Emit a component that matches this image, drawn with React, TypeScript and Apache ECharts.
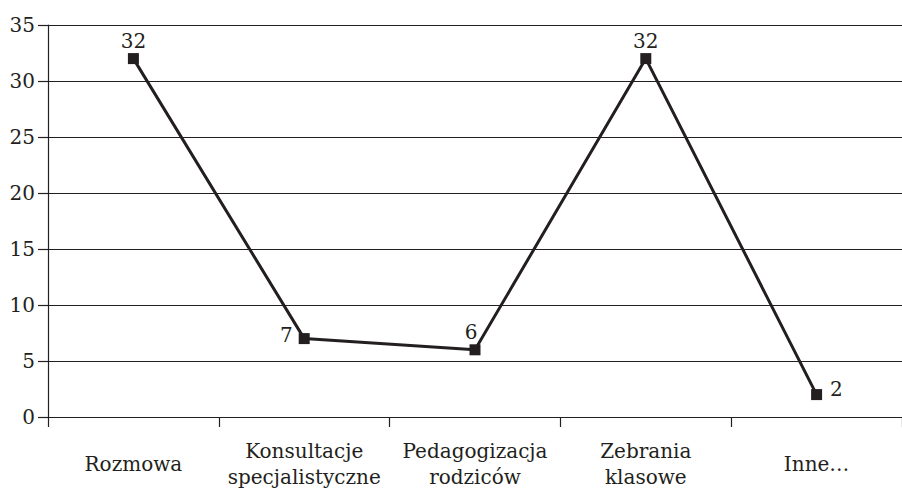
import React, { useEffect, useRef } from "react";
import * as echarts from "echarts";

const categories = ["Rozmowa", "Konsultacje\nspecjalistyczne", "Pedagogizacja\nrodziców", "Zebrania\nklasowe", "Inne…"];
const values = [32, 7, 6, 32, 2];
const labelPositions = ["top", "left", "top", "top", "right"];
const labelOffsets = [[0, 2], [-2, -4], [-4, 2], [0, 2], [4, -6]];

const INK = "#231f20";
const FONT = "DejaVu Serif";

export default function App() {
  const ref = useRef<HTMLDivElement>(null);
  useEffect(() => {
    if (!ref.current) return;
    const chart = echarts.init(ref.current, undefined, { renderer: "svg" });
    chart.setOption({
      animation: false,
      backgroundColor: "#ffffff",
      textStyle: { fontFamily: FONT },
      grid: { left: 48, right: -7, top: 25, bottom: 70, containLabel: false },
      xAxis: {
        type: "category",
        data: categories,
        boundaryGap: true,
        axisLine: { lineStyle: { color: INK, width: 1.2 } },
        axisTick: { show: true, length: 10, lineStyle: { color: INK, width: 1.2 } },
        axisLabel: {
          color: INK,
          fontFamily: FONT,
          fontSize: 20,
          margin: 47,
          lineHeight: 26,
          verticalAlign: "middle",
          interval: 0,
        },
      },
      yAxis: {
        type: "value",
        min: 0,
        max: 35,
        interval: 5,
        axisLine: { show: true, lineStyle: { color: INK, width: 1.2 } },
        axisTick: { show: true, length: 10, lineStyle: { color: INK, width: 1.2 } },
        axisLabel: { color: INK, fontFamily: FONT, fontSize: 20, margin: 13 },
        splitLine: { show: true, lineStyle: { color: INK, width: 1.2 } },
      },
      series: [
        {
          type: "line",
          data: values.map((v, i) => ({
            value: v,
            label: { position: labelPositions[i], offset: labelOffsets[i] },
          })),
          symbol: "rect",
          symbolSize: 11,
          lineStyle: { color: INK, width: 3 },
          itemStyle: { color: INK },
          label: { show: true, color: INK, fontFamily: FONT, fontSize: 20, distance: 4 },
        },
      ],
    });
    return () => chart.dispose();
  }, []);
  return <div ref={ref} style={{ position: "absolute", left: 0, top: 0, width: 902, height: 490 }} />;
}
